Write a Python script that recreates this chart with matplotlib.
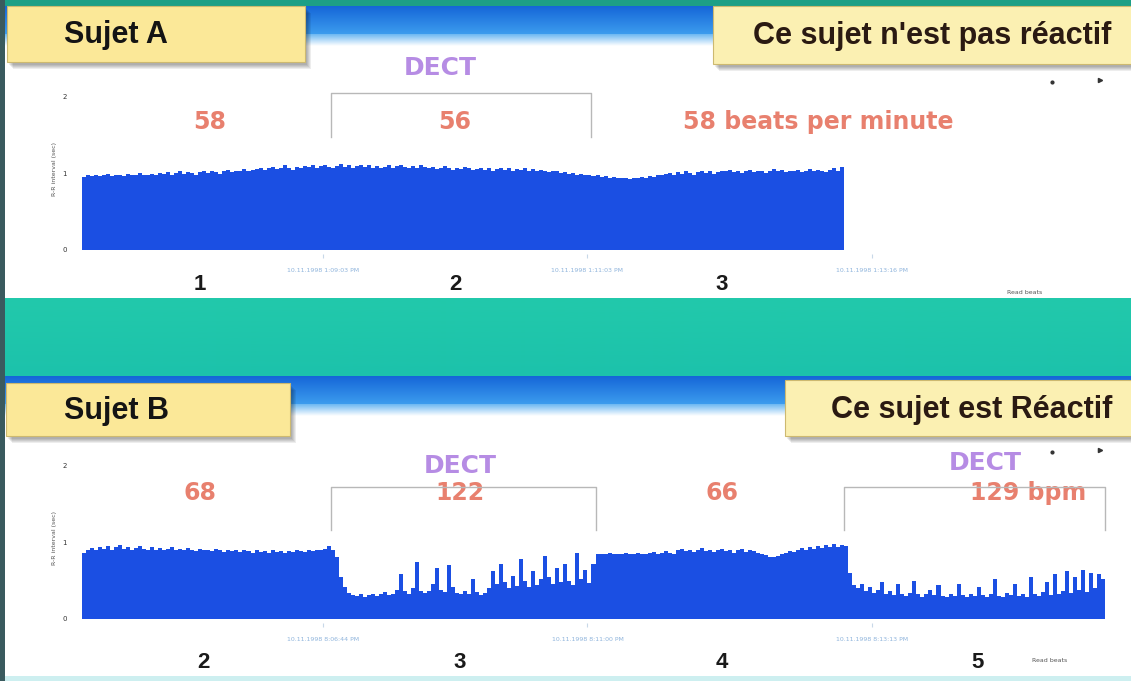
import numpy as np
import matplotlib
matplotlib.use("Agg")
import matplotlib.pyplot as plt
import matplotlib.colors as mcolors
from matplotlib.patches import Rectangle
from matplotlib import font_manager

# ---------------- data ----------------
# Subject A : R-R interval per beat group (s)
a_rr = [0.95, 0.97, 0.96, 0.98, 0.96, 0.97, 0.99, 0.96, 0.97, 0.98,
        0.96, 0.99, 0.97, 0.98, 1.00, 0.97, 0.98, 0.99,
        0.98, 1.00, 0.99, 1.01, 0.98, 1.00, 1.02, 0.99, 1.01, 1.00,
        0.98, 1.01, 1.03, 1.00, 1.02, 1.01, 0.99, 1.02, 1.04, 1.01,
        1.03, 1.02, 1.05, 1.03, 1.04,
        1.05, 1.07, 1.04, 1.06, 1.08, 1.05, 1.07, 1.10, 1.06, 1.04,
        1.08, 1.06, 1.09,
        1.08, 1.10, 1.07, 1.09, 1.11, 1.08, 1.06, 1.09, 1.12, 1.08,
        1.10, 1.07, 1.09, 1.11, 1.08, 1.10, 1.07, 1.09, 1.06, 1.08,
        1.10, 1.07, 1.09, 1.11, 1.08, 1.06, 1.09, 1.07, 1.10, 1.08,
        1.06, 1.08, 1.05, 1.07, 1.09, 1.06, 1.04, 1.07, 1.05, 1.08,
        1.06, 1.04,
        1.05, 1.07, 1.04, 1.06, 1.03, 1.05, 1.07, 1.04, 1.06, 1.03,
        1.05, 1.04, 1.06, 1.03, 1.05, 1.02, 1.04, 1.03, 1.01, 1.03,
        1.02, 1.00,
        1.01, 0.99, 1.00, 0.98, 0.99, 0.97, 0.98, 0.96, 0.97, 0.95,
        0.96, 0.94, 0.95, 0.93, 0.94,
        0.93, 0.92, 0.94, 0.93, 0.95, 0.94, 0.96, 0.95, 0.97, 0.98,
        0.99, 1.00, 0.98, 1.01, 0.99, 1.02, 1.00, 0.98, 1.01, 1.03,
        1.00, 1.02, 0.99, 1.01, 1.03,
        1.02, 1.04, 1.01, 1.03, 1.00, 1.02, 1.04, 1.01, 1.03, 1.02,
        1.00, 1.03, 1.05, 1.02, 1.04, 1.01, 1.03, 1.02, 1.04, 1.01,
        1.03, 1.05, 1.02, 1.04, 1.03, 1.01, 1.04, 1.06, 1.03, 1.08]
a_bpm = [58, 56, 58]
a_dect = (62, 127)
a_marks = ["1", "2", "3"]
a_times = ["10.11.1998 1:09:03 PM", "10.11.1998 1:11:03 PM", "10.11.1998 1:13:16 PM"]

# Subject B : four phases
b_seg1 = [0.86, 0.90, 0.92, 0.89, 0.94, 0.91, 0.95, 0.90, 0.93, 0.96,
          0.91, 0.94, 0.90, 0.92, 0.95, 0.91, 0.89, 0.93, 0.90, 0.92,
          0.89, 0.91, 0.94, 0.90, 0.91, 0.89, 0.92, 0.90, 0.88, 0.91,
          0.89, 0.90, 0.88, 0.91, 0.89, 0.87, 0.90, 0.88, 0.89, 0.87,
          0.90, 0.88, 0.86, 0.89, 0.87, 0.88, 0.86, 0.89, 0.87, 0.88,
          0.86, 0.88, 0.87, 0.89, 0.88, 0.87, 0.89, 0.88, 0.90, 0.89,
          0.91, 0.95, 0.90]
b_seg2 = [0.80, 0.55, 0.42, 0.34, 0.31, 0.30, 0.32, 0.29, 0.31, 0.33,
          0.30, 0.32, 0.35, 0.31, 0.33, 0.38, 0.58, 0.36, 0.33, 0.40,
          0.74, 0.37, 0.34, 0.36, 0.45, 0.66, 0.38, 0.35, 0.70, 0.42,
          0.34, 0.32, 0.36, 0.33, 0.52, 0.35, 0.31, 0.34, 0.40, 0.62,
          0.45, 0.72, 0.48, 0.40, 0.56, 0.43, 0.78, 0.50, 0.41, 0.62,
          0.44, 0.52, 0.82, 0.55, 0.46, 0.66, 0.48, 0.72, 0.50, 0.44,
          0.86, 0.52, 0.63, 0.47, 0.72]
b_seg3 = [0.84, 0.85, 0.84, 0.86, 0.85, 0.84, 0.85, 0.86, 0.84, 0.85,
          0.86, 0.85, 0.84, 0.86, 0.87, 0.85, 0.86, 0.88, 0.86, 0.85,
          0.89, 0.91, 0.88, 0.90, 0.87, 0.89, 0.92, 0.88, 0.90, 0.87,
          0.89, 0.91, 0.88, 0.90, 0.86, 0.89, 0.91, 0.87, 0.90, 0.88,
          0.86, 0.85, 0.83, 0.81, 0.80, 0.82, 0.84, 0.86, 0.88, 0.87,
          0.90, 0.92, 0.89, 0.94, 0.91, 0.95, 0.92, 0.96, 0.93, 0.97,
          0.94, 0.96, 0.95]
b_seg4 = [0.60, 0.44, 0.40, 0.46, 0.36, 0.42, 0.34, 0.38, 0.48, 0.33,
          0.36, 0.31, 0.45, 0.33, 0.30, 0.34, 0.50, 0.32, 0.29, 0.33,
          0.38, 0.31, 0.44, 0.30, 0.28, 0.32, 0.30, 0.46, 0.31, 0.29,
          0.33, 0.30, 0.42, 0.31, 0.28, 0.32, 0.52, 0.30, 0.29, 0.34,
          0.31, 0.45, 0.30, 0.33, 0.29, 0.55, 0.32, 0.30, 0.35, 0.48,
          0.31, 0.58, 0.33, 0.36, 0.62, 0.34, 0.55, 0.38, 0.64, 0.35,
          0.60, 0.40, 0.58, 0.52]
b_bpm = [68, 122, 66, 129]
b_dect = [(62, 128), (190, 255)]
b_marks = ["2", "3", "4", "5"]
b_times = ["10.11.1998 8:06:44 PM", "10.11.1998 8:11:00 PM", "10.11.1998 8:13:13 PM"]

time_ticks = [60, 126, 197]
y_ticks = [0, 1, 2]

# ---------------- style ----------------
W, H = 1131, 681
BLUE = "#1b4fe3"
RATE = "#e8806e"
DECT = "#b68ce4"
TEAL = "#1fc6aa"

names = {f.name for f in font_manager.fontManager.ttflist}
SANS = "Liberation Sans" if "Liberation Sans" in names else "DejaVu Sans"

fig = plt.figure(figsize=(W / 100, H / 100), dpi=100)
bg = fig.add_axes([0, 0, 1, 1])
bg.set_xlim(0, W)
bg.set_ylim(H, 0)
bg.axis("off")


def vgrad(x0, x1, y0, y1, c_top, c_bot, z=1):
    t = np.linspace(0, 1, 64)[:, None, None]
    ct = np.array(mcolors.to_rgb(c_top))[None, None, :]
    cb = np.array(mcolors.to_rgb(c_bot))[None, None, :]
    img = ct * (1 - t) + cb * t
    bg.imshow(img, extent=(x0, x1, y1, y0), aspect="auto", zorder=z,
              interpolation="bilinear")


def rect(x0, y0, w, h, color, z=1, **kw):
    bg.add_patch(Rectangle((x0, y0), w, h, facecolor=color, edgecolor="none",
                           zorder=z, **kw))


# bands
rect(0, 0, W, 8, "#1d9f86", z=1)
vgrad(0, W, 6, 34, "#1566d8", "#3c9cee", z=2)
vgrad(0, W, 34, 46, "#6cb8f2", "#ffffff", z=2)
vgrad(0, W, 298, 378, "#22c9ab", "#1cc2ab", z=2)
vgrad(0, W, 376, 404, "#1566d8", "#3c9cee", z=2)
vgrad(0, W, 404, 416, "#6cb8f2", "#ffffff", z=2)
rect(0, 676, W, 5, "#cdeff0", z=2)
rect(0, 0, 5, H, "#3a5a5e", z=3)


def ybox(x0, y0, x1, y1, fc):
    for k in range(5):
        rect(x0 + 2 + k, y0 + 3 + k, x1 - x0, y1 - y0, "black", z=4, alpha=0.07)
    bg.add_patch(Rectangle((x0, y0), x1 - x0, y1 - y0, facecolor=fc,
                           edgecolor="#cdb970", lw=0.8, zorder=5))


ybox(7, 6, 305, 62, "#fbe898")
ybox(713, 6, 1140, 64, "#fbf0b2")
ybox(6, 383, 290, 436, "#fbe898")
ybox(785, 380, 1140, 436, "#fbf0b2")

bg.text(64, 35, "Sujet A", family=SANS, weight="bold", fontsize=22,
        color="#141414", ha="left", va="center", zorder=6)
bg.text(932, 36, "Ce sujet n'est pas réactif", family=SANS, weight="bold",
        fontsize=22, color="#2a1a12", ha="center", va="center", zorder=6)
bg.text(64, 411, "Sujet B", family=SANS, weight="bold", fontsize=22,
        color="#141414", ha="left", va="center", zorder=6)
bg.text(972, 410, "Ce sujet est Réactif", family=SANS, weight="bold",
        fontsize=22, color="#2a1a12", ha="center", va="center", zorder=6)

# small toolbar glyphs
for yy in (82, 452):
    bg.plot([1052], [yy], marker="o", ms=2, color="#333", zorder=6)
    bg.plot([1100], [yy - 2], marker=">", ms=3, color="#333", zorder=6)


def data_axes(top_px, bottom_px, times):
    ax = fig.add_axes([78 / W, 1 - bottom_px / H, 1032 / W,
                       (bottom_px - top_px) / H])
    ax.patch.set_alpha(0)
    ax.set_xlim(-1.0, 256.25)
    ax.set_ylim(-0.052, 2.156)
    for s in ax.spines.values():
        s.set_visible(False)
    ax.set_yticks(y_ticks)
    ax.set_yticklabels([str(v) for v in y_ticks])
    ax.tick_params(axis="y", length=0, pad=8, labelsize=5, labelcolor="#333")
    ax.set_xticks(time_ticks)
    ax.set_xticklabels(times)
    ax.tick_params(axis="x", length=3, color="#c8d8e8", pad=7, labelsize=4.5,
                   labelcolor="#8fb4dc")
    ax.set_ylabel("R-R interval (sec)", fontsize=4.5, color="#555", labelpad=4)
    return ax


# ---------------- Subject A ----------------
axA = data_axes(84, 254, a_times)
axA.stairs(a_rr, np.arange(len(a_rr) + 1), baseline=0, fill=True,
           color=BLUE, lw=0)
x0, x1 = a_dect
axA.plot([x0, x0, x1, x1], [1.47, 2.04, 2.04, 1.47], color="#b8b8b8", lw=1)

for (px, py), lab in zip([(210, 122), (455, 122), (818, 122)],
                         [str(a_bpm[0]), str(a_bpm[1]),
                          f"{a_bpm[2]} beats per minute"]):
    bg.text(px, py, lab, family="DejaVu Sans", weight="bold", fontsize=17,
            color=RATE, ha="center", va="center", zorder=6)
bg.text(440, 68, "DECT", family="DejaVu Sans", weight="bold", fontsize=18,
        color=DECT, ha="center", va="center", zorder=6)
for px, lab in zip([200, 455, 722], a_marks):
    bg.text(px, 285, lab, family=SANS, weight="bold", fontsize=16,
            color="#1a1a1a", ha="center", va="center", zorder=6)
bg.text(1025, 292, "Read beats", fontsize=4.5, color="#555", ha="center",
        va="center", zorder=6)

# ---------------- Subject B ----------------
axB = data_axes(453, 623, b_times)
b_rr = b_seg1 + b_seg2 + b_seg3 + b_seg4
axB.stairs(b_rr, np.arange(len(b_rr) + 1), baseline=0, fill=True,
           color=BLUE, lw=0)
for x0, x1 in b_dect:
    axB.plot([x0, x0, x1, x1], [1.16, 1.71, 1.71, 1.16], color="#b8b8b8", lw=1)

for (px, py), lab in zip([(200, 493), (460, 493), (722, 493), (1028, 493)],
                         [str(b_bpm[0]), str(b_bpm[1]), str(b_bpm[2]),
                          f"{b_bpm[3]} bpm"]):
    bg.text(px, py, lab, family="DejaVu Sans", weight="bold", fontsize=17,
            color=RATE, ha="center", va="center", zorder=6)
for px, py in [(460, 466), (985, 463)]:
    bg.text(px, py, "DECT", family="DejaVu Sans", weight="bold", fontsize=18,
            color=DECT, ha="center", va="center", zorder=6)
for px, lab in zip([203, 460, 722, 978], b_marks):
    bg.text(px, 662, lab, family=SANS, weight="bold", fontsize=16,
            color="#1a1a1a", ha="center", va="center", zorder=6)
bg.text(1050, 660, "Read beats", fontsize=4.5, color="#555", ha="center",
        va="center", zorder=6)

bg.set_xlim(0, W)
bg.set_ylim(H, 0)
fig.savefig("out.png", dpi=100)
